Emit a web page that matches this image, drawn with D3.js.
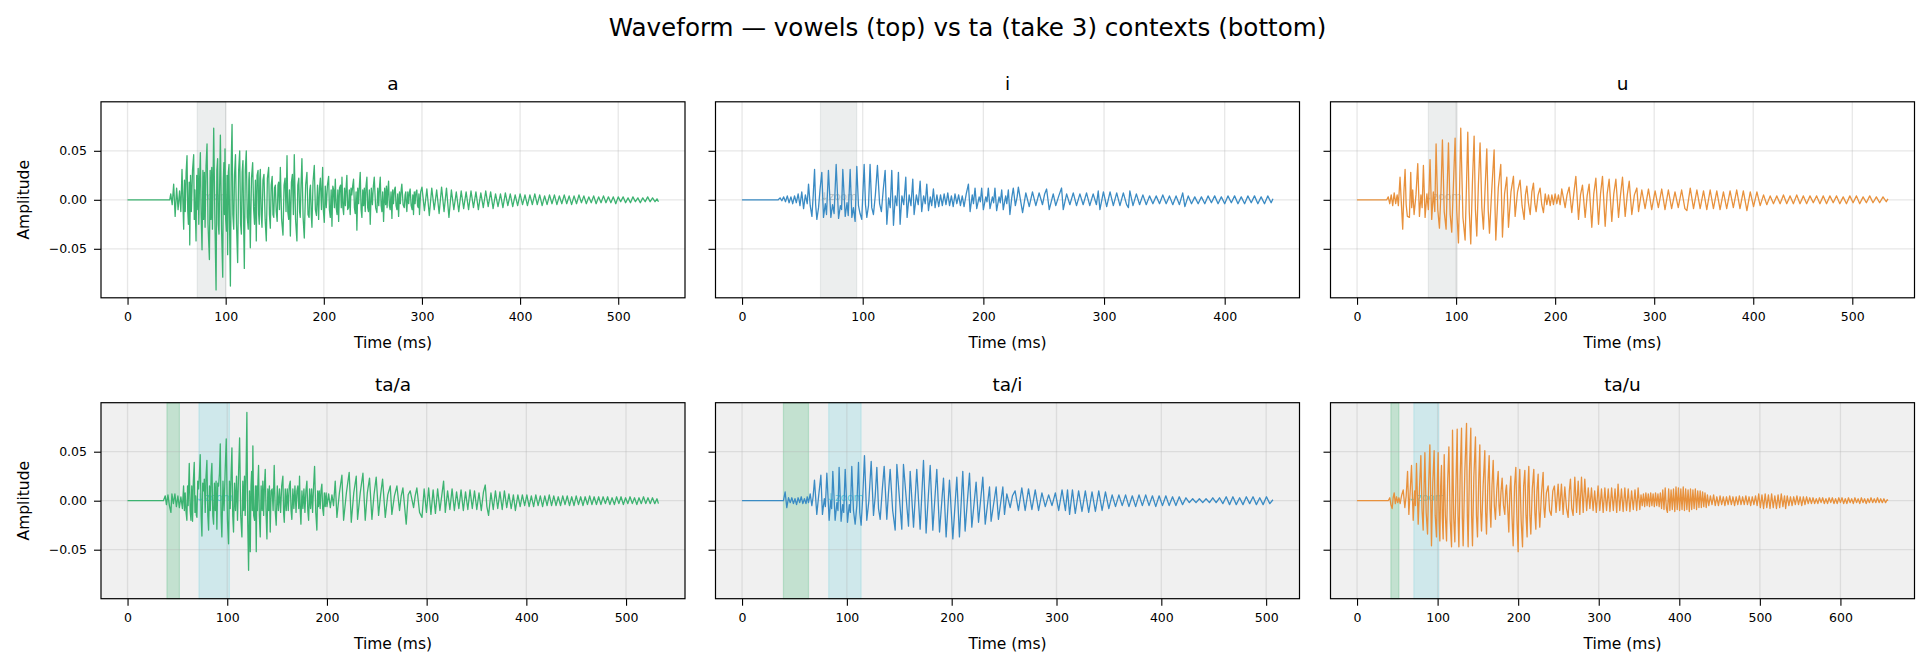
<!DOCTYPE html>
<html>
<head>
<meta charset="utf-8">
<script src="https://cdn.jsdelivr.net/npm/d3@7"></script>
<style>
  body { margin: 0; background: #fff; }
  svg text { font-family: "DejaVu Sans", sans-serif; }
</style>
</head>
<body>
<script>
// waveforms: [time ms, amplitude x 1000]
var waveA = [[0,0],[43,0],[44,6],[45.5,-5],[47,16],[48.5,-17],[50,12],[51.5,-10],[53,9],[54.3,-12],[55.5,31],[57.2,-30],[58,20],[58.8,-12],[59.7,28],[60.6,45],[61.3,-10],[62,-25],[62.8,18],[63.4,-46],[64.2,25],[65,-12],[66.2,30],[67.4,46],[68,-20],[68.6,10],[69.8,-42],[70.5,25],[71,-10],[72,32],[72.6,-25],[73.4,20],[74.2,48],[75,-15],[75.9,-51],[76.8,30],[77.5,-20],[78.3,28],[79,-28],[80,35],[81,57],[82,-25],[83.4,-61],[84.2,30],[85,-20],[85.8,33],[86.5,-30],[87.8,73],[89,-20],[90.2,-92],[91,30],[91.8,42],[92.5,-25],[93.2,-35],[94,25],[94.6,66],[95.8,-30],[97,-79],[97.6,20],[98.2,38],[98.8,-15],[99.3,52],[100,-20],[100.8,-32],[101.4,25],[102,-56],[102.7,28],[103.4,36],[104,-30],[104.8,-88],[105.7,40],[106.5,77],[107.3,-15],[108.2,-30],[109,25],[110,46],[111,-25],[112.2,-64],[113.2,30],[114.3,50],[115.2,-25],[116,-35],[116.8,28],[117.6,40],[118.3,-25],[119,-70],[120,30],[121,50],[122,-18],[123,-30],[123.6,20],[124,28],[124.6,-20],[125.1,-49],[126.3,22],[127.5,38],[128.5,-10],[129.4,-25],[130.3,20],[131.2,-42],[132,25],[133,30],[133.6,-15],[134.2,-25],[134.8,22],[135.3,31],[136.2,-15],[137,-28],[138,20],[139,26],[140.2,-20],[141.4,-42],[142.5,22],[143.8,33],[144.6,-15],[145.5,-29],[146.4,15],[147.4,24],[148.2,-15],[149,-18],[149.8,12],[150.6,15],[151.5,-12],[152.5,-22],[153.3,15],[154,18],[154.8,-10],[155.7,33],[157,-20],[158.4,-36],[159.5,15],[160.5,22],[161.5,-12],[162.5,45],[163.3,-12],[164.2,-20],[165,10],[165.9,-37],[167,18],[168,26],[169,-15],[169.9,46],[171.2,-20],[172.6,-42],[173.5,15],[174.5,22],[175.3,-12],[176,-18],[176.8,15],[177.7,42],[178.9,-18],[180.1,-39],[181.5,15],[182.8,28],[183.9,-15],[185,-18],[185.7,10],[186.4,15],[187.2,-15],[187.9,-28],[189,18],[190.3,35],[191.4,-10],[192.5,-16],[193.6,15],[194.7,-20],[195.6,12],[196.5,22],[197.6,-10],[198.8,33],[199.6,-12],[200.5,-23],[201.5,14],[202.5,-8],[203.7,15],[204.9,24],[205.7,-10],[206.6,-18],[207.5,10],[208.3,-27],[209.2,14],[210,10],[210.8,-8],[211.7,21],[212.6,-8],[213.5,-15],[214.3,10],[215.1,-22],[216,12],[217,15],[217.8,-8],[218.5,23],[219.4,-8],[220.2,-15],[221.1,12],[222,-6],[222.8,14],[223.5,25],[224.3,-10],[225.2,-8],[226,10],[226.9,-15],[227.7,12],[228.5,5],[229.4,14],[230.3,21],[231.2,-8],[232,-14],[232.9,8],[233.7,-31],[234.6,12],[235.5,-4],[236.3,15],[237.1,28],[238,-10],[238.8,-18],[239.7,10],[240.5,-6],[241.3,12],[242.2,-12],[243,14],[243.9,23],[244.7,-8],[245.5,-12],[246.4,10],[247.3,-25],[248.4,12],[249.5,-5],[250.5,14],[251.4,23],[252.8,-8],[254.1,-13],[255,12],[256,-6],[256.8,14],[257.5,23],[258.4,-6],[259.2,-12],[260,8],[260.9,-22],[262,12],[263,-5],[263.8,14],[264.5,-8],[265.3,10],[266,19],[266.8,-6],[267.6,-10],[268.5,8],[269.4,-19],[270.2,10],[271,-4],[271.9,10],[272.8,13],[273.6,-6],[274.5,-10],[275.3,6],[276.2,-17],[277.1,8],[278,-4],[278.8,10],[279.5,16],[280.8,-5],[282,-8],[282.8,5],[283.5,8],[284.1,-6],[284.6,-12],[285.6,8],[286.5,-4],[287.3,8],[288,11],[289,-6],[290,-10],[290.7,5],[291.4,-15],[292.2,8],[293,-4],[293.9,8],[294.8,10],[295.5,-6],[296.2,-8],[296.9,6],[297.5,-15],[298.7,8],
  [300,13],[302.5,-11],[305,11],[307.5,-16],[310,12],[312.5,-10],[315,10],[317.5,-14],[320,13],[322.5,-12],[325,12],[327.5,-18],[330,10],[332.5,-10],[335,8],[337.5,-12],[340,9],[342.5,-9],[345,8],[347.5,-10],[350,9],[352.5,-8],[355,8],[357.5,-10],[360,7],[362.5,-8],[365,9],[367.5,-7],[370,8],[372.5,-9],[375,6],[377.5,-7],[380,6],[382.5,-8],[385,7],[387.5,-6],[390,6],[392.5,-7],[395,5],[397.5,-6],[400,6],[402.5,-5],[405,5],[407.5,-6],[410,5],[412.5,-5],[415,6],[417.5,-5],[420,5],[422.5,-6],[425,4],[427.5,-5],[430,5],[432.5,-4],[435,5],[437.5,-5],[440,4],[442.5,-4],[445,5],[447.5,-4],[450,4],[452.5,-5],[455,4],[457.5,-4],[460,5],[462.5,-3],[465,4],[467.5,-4],[470,3],[472.5,-3],[475,4],[477.5,-4],[480,3],[482.5,-3],[485,4],[487.5,-3],[490,3],[492.5,-3],[495,3],[497.5,-4],[500,3],[502.5,-2],[505,3],[507.5,-3],[510,2],[512.5,-3],[515,3],[517.5,-2],[520,2],[522.5,-3],[525,2],[527.5,-2],[530,3],[532.5,-2],[535,2],[537.5,-2],[539.5,1],[541,-2]];

var waveI = [[0,0],[30,0],[31.5,2],[33,-1],[34.5,3],[36,-2],[37.5,4],[39,-3],[40.5,3],[42,-4],[43.5,4],[45,-3],[46.5,6],[48,-6],[49.5,8],[51,-9],[52.5,5],[54,-4],[55.1,16],[56.5,-6],[57.9,-17],[59,5],[60.1,31],[61,-5],[62,-20],[63.4,-8],[64.6,10],[66.1,28],[67.5,-18],[69,-4],[70,-15],[71.6,30],[73.6,-18],[75,-5],[76.3,-14],[78,36],[80,-19],[81.5,-6],[82.5,-10],[83.5,31],[85.5,-17],[87,-3],[88,-16],[89.6,31],[91,-18],[92.3,-8],[93.7,-22],[95.1,34],[96.5,-6],[97.8,-14],[99.2,-20],[101.2,36],[102.3,-5],[103.4,-18],[104.8,-6],[106.1,36],[107.5,-8],[108.9,-15],[110.5,5],[112.2,35],[114,-4],[115.5,-12],[117,10],[118.6,30],[120,-25],[121.5,2],[122.8,-8],[124.1,30],[125.5,-26],[127,4],[128.3,-6],[129.6,28],[131,-25],[132.5,4],[134,-5],[135.7,23],[136.8,-18],[138.5,5],[140,-6],[141.5,21],[142.6,-15],[144.5,5],[146,-5],[147.6,19],[148.9,-12],[150.5,4],[151.8,-4],[153.1,16],[154.5,-11],[156,3],[157.2,-6],[158.6,11],[160,-8],[161.5,5],[163,-7],[164.5,5],[166,-6],[167.5,6],[169,-5],[170.5,7],[172,-6],[173.5,4],[175,-7],[176.5,6],[178,-4],[179.5,5],[181,-6],[182.5,4],[184,-7],[185.8,6],[187.6,16],[189,-12],[190.8,5],[191.8,-4],[193.1,12],[194.5,-9],[196.5,3],[197.5,-2],[198.6,12],[200,-10],[202,3],[203,-2],[204.1,12],[205.5,-9],[207.5,3],[208.5,-3],[209.6,12],[211,-11],[213,3],[214,-3],[215.2,10],[216.5,-10],[218.5,4],[219.4,-4],[220.7,10],[222,-15],[223.5,2],[224.8,12],[226.5,-6],[228,3],[229,13],[232.5,-13],
  [235.2,7],[238,-7],[240.7,8],[243.5,-6],[246.2,7],[249,-5],[250.8,6],[252.4,11],[254.6,-10],[257.9,6],[260,-6],[262.5,4],[264.8,12],[266.2,-10],[269,6],[271.7,-5],[274.5,7],[277.2,-6],[280,6],[282.7,-5],[285.5,7],[288.2,-6],[291,6],[293.7,-5],[295.2,9],[296.6,-10],[299.5,8],[302.2,-7],[305,8],[307.7,-6],[310.5,7],[313.2,-6],[316,7],[318.7,-5],[320.2,-8],[321.4,9],[324,-6],[326.8,6],[329.5,-5],[332.2,5],[335,-5],[337.7,4],[340.5,-4],[343.2,4],[346,-4],[348.7,5],[351.5,-4],[354.2,4],[357,-5],[359.7,4],[362.5,-5],[365.2,7],[367,-7],[369.8,4],[372.5,-4],[375.2,3],[378,-4],[380.7,3],[383.5,-4],[386.2,4],[389,-3],[391.7,4],[394.5,-4],[397.2,3],[400,-4],[402.7,4],[405.5,-3],[408.2,4],[411,-4],[413.7,3],[416.5,-4],[419.2,4],[422,-3],[424.7,4],[427.5,-4],[430.2,3],[433,-4],[435.7,4],[438.5,-3],[440,1]];

var waveU = [[0,0],[30,0],[31.5,3],[33,-4],[34.5,5],[36,-6],[37.5,7],[39,-4],[40.5,5],[41.7,-6],[43.4,23],[46.1,-30],[47.3,8],[48.5,31],[49.6,-5],[50.8,-17],[52.9,-18],[54.2,28],[55.2,-8],[56.2,10],[57.6,-15],[59.5,5],[61.3,37],[63,-17],[64.5,5],[65.7,-8],[67,35],[68.7,-18],[70.5,6],[72,-10],[73.7,41],[75.4,-20],[77,8],[78.5,-12],[79.8,57],[81.5,-10],[83.2,-29],[84.8,10],[86.2,61],[88,-12],[89.9,-30],[91,12],[92.3,58],[94,-15],[95.6,-33],[97.3,15],[99,63],[100.7,-12],[102.4,-44],[103.5,10],[104.7,73],[106.9,-18],[109.1,-41],[110.5,15],[111.8,69],[113.3,-12],[114.8,-45],[116.5,18],[118.2,65],[119.5,-10],[120.9,-37],[122.5,15],[124.2,58],[126,-8],[127.6,-30],[129.3,12],[131,52],[132.4,-10],[133.7,-34],[136,10],[138.4,51],[139.3,-8],[140.1,-41],[142.6,12],[145.1,36],[146.8,-38],[148.9,6],[151.2,23],[152.9,-28],[155.4,8],[157.9,24],[159.6,-17],[162,8],[164.6,20],[166.6,-6],[168.7,-20],[170,5],[171.4,14],[173,-3],[174.8,-15],[176.5,8],[178.1,17],[179.5,-4],[180.8,-12],[182.8,5],[184.8,12],[186.5,-5],[188.2,-13],[190,6],[191.6,-5],[193.3,5],[195,-6],[196.7,5],[198.3,-5],[200,6],[201.7,-4],[203.3,5],[205,-5],[206.7,11],[210.1,-8],[212,5],[214.1,13],[216.8,-13],[218.8,6],[220.9,24],[223.6,-20],[225.6,5],[227.6,15],[230.3,-18],[232.3,4],[234.3,16],[237,-28],[239,6],[241.1,22],[243.8,-25],[245.8,6],[247.8,24],[250.5,-27],[252.5,6],[254.5,21],[257.2,-22],[259.2,6],[261.3,21],[264,-18],[266,5],[268,23],[270.7,-17],[272.8,5],[274.8,19],[277.4,-15],[280,5],[282.5,12],[284.2,-12],
  [287.5,10],[290.8,-9],[294.2,11],[297.5,-10],[300.9,9],[304.2,-8],[307.6,11],[310.9,-10],[314.3,10],[317.6,-9],[321,8],[324.3,-8],[327.7,10],[331,-9],[333,-11],[336.4,12],[339.7,-9],[343.1,10],[346.4,-9],[349.8,9],[353.1,-10],[356.5,10],[359.8,-9],[363.2,9],[366.5,-10],[369.9,8],[373.2,-9],[376.6,9],[379.9,-8],[383.3,10],[386.6,-9],[390,9],[393.6,-11],[397,8],[400.3,-7],[403.7,8],[407,-6],[410.4,5],[413.7,-5],[417.1,4],[420.4,-4],[423.8,4],[427.1,-4],[430.5,5],[433.8,-4],[437.2,4],[440.5,-4],[443.9,5],[447.2,-4],[450.6,4],[453.9,-4],[457.3,4],[460.6,-3],[464,4],[467.3,-4],[470.7,4],[474,-4],[477.4,4],[480.7,-3],[484.1,4],[487.4,-4],[490.8,3],[494.1,-4],[497.5,4],[500.8,-3],[504.2,4],[507.5,-4],[510.9,3],[514.2,-3],[517.6,4],[520.9,-3],[524.3,3],[527.6,-3],[531,3],[534.3,-2],[536,1]];

var waveTaA = [[0,0],[36,0],[37.8,5],[39,-4],[40.5,6],[42,-5],[43.5,-12],[44.5,7],[46,-3],[47.5,7],[49,-6],[50.5,5],[52,-7],[53.5,4],[55,-8],[56.2,15],[57,-10],[57.8,8],[58.7,-12],[59.5,-20],[60.2,15],[60.8,-5],[61.9,38],[62.8,-10],[63.6,-20],[64.4,15],[65.2,-21],[66,20],[66.9,39],[67.6,-12],[68.3,5],[69,-15],[69.6,-17],[70.4,20],[71.2,12],[72,25],[72.9,47],[73.8,-15],[74.6,-36],[75.4,18],[76.2,10],[77,22],[77.9,-12],[78.7,25],[79.6,41],[80.5,-15],[81.3,-30],[82.2,15],[83,-10],[83.8,25],[84.6,38],[85.5,-15],[86.3,-24],[87.2,18],[88,-10],[88.8,20],[89.6,-29],[90.5,18],[91.3,15],[92.2,28],[93,58],[93.8,-15],[94.6,-37],[95.7,20],[96.8,-10],[97.9,30],[99,63],[100.2,-20],[101.3,-44],[102.2,20],[103,-8],[103.9,30],[104.7,54],[105.5,-15],[106.3,-32],[107.3,18],[108.3,-10],[109.3,25],[110.3,-20],[111.4,30],[112.4,64],[113.5,-15],[114.7,-37],[115.6,20],[116.5,-10],[117.3,25],[118,-15],[118.9,30],[119.7,90],[120.5,-20],[121.4,-71],[122.3,10],[123.1,-52],[123.8,15],[124.5,30],[125.1,-10],[125.7,56],[126.5,-15],[127.4,-20],[128.3,15],[129.1,-52],[129.7,15],[130.3,-10],[130.8,20],[131.4,36],[132.2,-15],[133.1,-37],[134,15],[135,-10],[135.7,20],[136.5,-15],[137.3,15],[138.1,32],[139,-15],[139.8,-39],[140.7,12],[141.5,-10],[142.3,15],[143.1,-32],[144,10],[145,12],[146,-10],[147.1,36],[148.1,-10],[149.1,-25],[150.2,15],[151.3,-10],[152.4,12],[153.5,-12],[154.6,15],[155.8,25],[156.5,-12],[157.2,-22],[158.2,12],[159.2,-10],[160.2,12],[161.2,-10],[162.2,15],[163.2,20],[164,-10],[164.8,-19],[165.8,12],[166.8,-8],[167.9,15],[169,-12],[169.9,10],[170.8,15],[171.7,-8],[172.5,25],[173.2,-10],[173.9,-24],[174.9,10],[175.9,-8],[176.9,12],[177.9,-12],[178.9,10],[179.9,20],[180.8,-10],[181.6,-20],[182.6,12],[183.6,-8],[184.6,12],[185.6,-12],[186.6,15],[187.6,35],[188.8,-12],[189.9,-30],[190.7,10],[191.5,-6],[192.3,10],[193.2,-8],[194,10],[194.9,17],[195.7,-8],[196.6,-15],[197.4,8],[198.3,-6],[199.2,8],[200,-6],[201.7,7],[203.4,-7],[205,6],[206.6,-5],[208.3,20],[210,-17],[212.5,8],[215,26],[216.7,-20],[219.5,8],[222.3,29],[224.4,-22],[226.9,8],[229.4,25],[230.7,-19],[233.4,8],[236.1,28],[238.4,-20],[240.5,8],[242.7,23],[245.1,-19],[247.2,6],[249.4,24],[251.8,-15],[253.8,6],[255.8,22],[258.5,-17],[261,6],[263.5,15],[265.1,-14],[267.7,5],[270.2,15],[272.8,-10],[274.5,5],[276.2,13],[279.5,-24],[281.5,6],[283.5,10],[286.9,-7],[288.5,5],[290.2,13],[292.9,-12],
  [295.3,-17],[297.5,12],[299.8,-12],[302,13],[304.3,-14],[306.5,11],[308.8,-13],[311,12],[313.3,-10],[315.5,8],[317,20],[318.7,-12],[321,10],[323.3,-9],[325.5,12],[327.8,-10],[330,9],[332.3,-8],[334.5,11],[336.8,-10],[339,9],[341.3,-9],[343.5,11],[345.8,-8],[348,10],[350.3,-9],[352.5,8],[354.8,-10],[357,9],[358.8,16],[360.4,-6],[362.1,-15],[364.5,8],[366.8,-9],[369,10],[371.3,-8],[373.5,9],[375.8,-9],[378,10],[380.3,-7],[382.5,7],[384.8,-8],[387,6],[389,-10],[391.5,6],[393.8,-6],[396,6],[398.3,-5],[400.5,6],[402.8,-6],[405,5],[407.3,-6],[409.5,6],[411.8,-5],[414,5],[416.3,-6],[418.5,5],[420.8,-5],[423,6],[425.3,-5],[427.5,5],[429.8,-5],[432,4],[434.3,-5],[436.5,5],[438.8,-4],[441,5],[443.3,-5],[445.5,4],[447.8,-5],[450,5],[452.3,-4],[454.5,4],[456.8,-5],[459,4],[461.3,-4],[463.5,5],[465.8,-4],[468,4],[470.3,-4],[472.5,4],[474.8,-4],[477,4],[479.3,-3],[481.5,4],[483.8,-4],[486,3],[488.3,-4],[490.5,4],[492.8,-3],[495,4],[497.3,-4],[499.5,3],[501.8,-3],[504,4],[506.3,-3],[508.5,3],[510.8,-4],[513,3],[515.3,-3],[517.5,4],[519.8,-3],[522,3],[524.3,-3],[526.5,3],[528.8,-3],[531,2],[532.5,-3]];

var waveTaI = [[0,0],[39.5,0],[41.1,9],[42.7,-7],[44.3,3],[46,-2],[47.5,3],[49,-3],[50.5,2],[52,-4],[53.5,3],[55,-2],[56.5,4],[58,-3],[59.5,2],[61,-3],[62.2,4],[63.4,-2],[65,7],[66.6,-5],[67.8,4],[69.1,21],[71.3,-14],[73,4],[75.2,26],[76.7,-14],[78.5,2],[79.5,-6],[80.9,28],[83.1,-20],[84.5,0],[85.5,-8],[86.6,30],[88.8,-20],[90.5,-2],[91.5,-10],[92.6,34],[94.5,-21],[96,-4],[97,-12],[98.4,32],[100.6,-22],[102.3,-4],[103.3,-12],[104.7,35],[106.3,-10],[107.9,-24],[109.5,-5],[111.1,39],[112.3,-12],[113.6,-25],[115.2,5],[116.8,46],[119,-20],[121,0],[123.2,40],[125.4,-15],[127,4],[128.6,34],[130.2,-8],[131.8,-19],[133.7,10],[135.6,35],[138.1,-19],[139.7,8],[141.3,32],[143.7,-10],[146.1,-30],[147.7,37],[152.4,-29],[154,37],[158.8,-26],[160.4,30],[163.6,-27],[166.7,32],[169.9,-29],[173.1,41],[175.6,-33],[179.5,36],[182,-30],[185.8,32],[188.4,-32],[192.2,23],[194.7,-37],[197.9,21],[201.1,-39],[204.9,24],[207.4,-37],[210.6,30],[212.8,-31],[217,28],[219.2,-27],[223.3,19],[225.6,-22],[229.7,24],[232,-24],[236.1,14],[237.6,-21],[242.4,14],[244.6,-19],[248.8,14],[250.4,-14],[252.6,7],[255.8,-7],[258,5],[260.5,10],[263.7,-10],
  [266.9,13],[270.1,-10],[273.3,12],[276.5,-9],[279.7,11],[282.9,-10],[286.1,8],[289.3,-6],[292.5,6],[295.7,-5],[298.9,8],[302.1,-10],[305.3,11],[308.5,-10],[310.5,11],[312.5,-14],[315.2,11],[317.9,-13],[321.1,10],[324.3,-11],[327.5,10],[330.7,-12],[333.9,9],[337.1,-11],[340.3,10],[343.5,-10],[346.7,9],[349.9,-8],[353.1,6],[356.3,-6],[359.5,6],[362.7,-5],[365.9,6],[369.1,-6],[372.3,5],[375.5,-6],[378.7,6],[381.9,-5],[385.1,6],[388.3,-5],[391.5,5],[394.7,-6],[397.9,5],[401.1,-5],[404.3,5],[407.5,-5],[410.7,4],[413.9,-5],[417.1,4],[420.3,-4],[423.5,3],[426.7,-2],[429.9,2],[433.1,-2],[436.3,2],[439.5,-2],[442.7,2],[445.9,-2],[449.1,3],[452.3,-2],[455.5,3],[458.7,-3],[461.9,4],[465.1,-4],[468.3,4],[471.5,-4],[474.7,3],[477.9,-4],[481.1,4],[484.3,-3],[487.5,4],[490.7,-4],[493.9,3],[497.1,-4],[500.3,4],[503.5,-3],[506.5,1]];

var waveTaU = [[0,0],[38.7,0],[40.7,3],[42,-4],[43.6,-8],[44.8,3],[46.1,8],[47.5,-3],[49,4],[50.5,-2],[52,3],[53.5,-3],[55.2,5],[57.3,11],[59.3,-7],[61,5],[62.7,30],[64.3,-14],[66,10],[67.6,36],[69.7,-20],[71.5,10],[72.5,-5],[73.8,38],[75.9,-24],[77.5,12],[79.2,46],[80.7,-10],[82.1,-30],[83.2,15],[84.2,49],[85.8,-12],[87.5,-34],[89,20],[90.4,57],[92.4,-46],[94,18],[95.7,51],[97,-15],[98.6,-37],[99.7,20],[100.7,49],[101.8,-20],[102.8,-41],[103.8,15],[104.8,36],[105.8,-18],[106.9,-39],[107.5,10],[108.2,47],[109.6,-15],[111.1,-41],[112.5,20],[114,55],[115.6,-20],[117.3,-47],[118.5,72],[120,-18],[121.4,-42],[123,25],[124.3,73],[125.3,-15],[126.4,-47],[128,25],[129.7,74],[130.7,-18],[131.7,-46],[133.8,30],[135.9,79],[136.9,-15],[137.9,-47],[139.5,30],[141.2,74],[142.2,-15],[143.3,-46],[145,25],[147,65],[148.2,-15],[149.5,-37],[151,20],[152.4,57],[153.4,-10],[154.5,-31],[156.5,15],[158.6,51],[159.6,-12],[160.7,-34],[162.3,15],[164,46],[165,-8],[166.1,-27],[167.5,15],[169,41],[170.4,-5],[171.8,-19],[173.5,12],[175.2,30],[176.2,-5],[177.2,-15],[178.6,8],[180.1,23],[181.8,-5],[183.4,-14],[184.5,10],[185.5,16],[187,-8],[188.4,-32],[189.7,10],[190.9,25],[192.3,-15],[193.8,-46],[195.5,15],[197.1,34],[198.5,-20],[200,-52],[201,15],[202,32],[203.7,-20],[205.4,-47],[206.8,15],[208.3,31],[209.7,-15],[211.1,-37],[212.1,15],[213.2,35],[214.5,-15],[215.7,-34],[217.5,12],[219.4,32],[220.7,-12],[221.9,-29],[223.3,10],[224.8,27],[225.8,-10],[226.8,-27],[229,8],[231,29],[232,-8],[233,-17],[235,8],[237.2,15],[239,-10],[241,-15],[243,10],[245,15],[247,-12],[249.6,17],[251.5,-10],[253.7,17],[255.8,-14],[257.9,14],[260,-8],[262,-17],[263.5,10],[264.9,22],[266.5,-8],[268.2,-15],[270.3,24],[272.5,-12],[274.5,20],[276.5,-14],[278.6,24],[280.7,-12],[282.7,22],[285,-10],[287,13],[289,-8],[291,13],[293,-10],[295,10],[297,-12],[299.2,15],[301.3,-10],[303.4,12],[305.5,-12],[307.6,13],[309.7,-10],[311.8,12],[313.9,-11],[316,13],[318.1,-10],[320.2,12],[322.3,-12],[324,17],[326.1,-10],[328.2,12],[330.3,-11],[332.4,13],[334.5,-10],[336.6,12],[338.7,-11],[340.8,10],[342.9,-9],[345,11],[347.1,-10],[348.9,13],[351,-9],
  [352.5,6],[354,-5],[355.5,7],[357,-6],[358.5,8],[360,-5],[361.5,7],[363,-6],[364.5,8],[366,-5],[367.5,7],[369,-6],[370.5,8],[372,-5],[373.5,7],[375,-6],[376.5,8],[378,-8],[379.5,11],[381,-9],[382.5,13],[384,-8],[385.3,-12],[386.8,12],[388.3,-10],[389.8,11],[391.3,-9],[392.8,12],[394.4,-11],[395.9,14],[397.4,-9],[398.9,13],[400.4,-10],[401.9,12],[403.4,-9],[404.9,14],[406.4,-10],[407.9,12],[409.4,-9],[410.9,11],[412.4,-11],[413.9,12],[415.4,-9],[416.9,11],[418.4,-8],[419.9,12],[421.4,-9],[422.9,10],[424.4,-7],[425.9,10],[427.4,-7],[428.9,9],[430.4,-6],[431.9,8],[433.4,-7],[434.9,6],[436.6,-5],[438.6,5],[440.6,-4],[442.6,6],[444.6,-5],[446.6,4],[448.6,-5],[450.6,5],[452.6,-4],[454.6,4],[456.6,-5],[458.6,4],[460.6,-4],[462.6,5],[464.6,-4],[466.6,4],[468.6,-5],[470.6,4],[472.6,-4],[474.6,5],[476.6,-4],[478.6,4],[480.6,-4],[482.6,5],[484.6,-4],[486.6,4],[488.6,-5],[490.6,4],[492.6,-4],[494.6,5],[496.6,-5],[498.6,7],[500.6,-7],[502.6,6],[504.6,-8],[506.6,7],[508.6,-7],[510.6,6],[512.6,-8],[514.6,7],[516.6,-7],[518.6,5],[520.6,-8],[522.6,6],[524.6,-7],[526.6,7],[528.6,-6],[530.6,5],[532,-8],[534,5],[536,-5],[538,4],[540,-5],[542,4],[544,-4],[546,5],[548,-4],[550,4],[552,-5],[554,4],[556,-4],[558,4],[560,-3],[562,3],[564,-3],[566,3],[568,-3],[570,2],[572,-3],[574,3],[576,-2],[578,3],[580,-3],[582,2],[584,-3],[586,3],[588,-2],[590,3],[592,-3],[594,2],[596,-3],[598,3],[600,-2],[602,3],[604,-3],[606,2],[608,-3],[610,3],[612,-2],[614,2],[616,-3],[618,3],[620,-2],[622,2],[624,-3],[626,3],[628,-2],[630,2],[632,-3],[634,2],[636,-2],[638,3],[640,-2],[642,2],[644,-2],[646,3],[648,-2],[650,2],[652,-2],[654,2],[656,-2],[658,1],[659,0]];

var suptitle = "Waveform — vowels (top) vs ta (take 3) contexts (bottom)";
var panelTitles = ["a", "i", "u", "ta/a", "ta/i", "ta/u"];
var waves = [waveA, waveI, waveU, waveTaA, waveTaI, waveTaU];
var yTicks = [-0.05, 0, 0.05];
var yTickLabels = ["\u22120.05", "0.00", "0.05"];
var vowelSpans = [[71, 100], [65, 95], [72, 101]];     // top row, grey
var burstSpans = [[39.5, 52], [39.5, 63.4], [42, 52]]; // bottom row, green
var zoomSpans = [[71.6, 102.2], [82.7, 113.6], [70.5, 101.5]]; // bottom row, cyan
var lineColors = ["#3cb371", "#3a8bc4", "#e8913c"];

var W = 1929, H = 671;
var colX = [101, 715.5, 1330.5], rowY = [101.8, 402.7];
var pw = 584, ph = 196;

var svg = d3.select("body").append("svg")
    .attr("width", W)
    .attr("height", H);

svg.append("text")
    .attr("x", W / 2 + 3)
    .attr("y", 36)
    .attr("text-anchor", "middle")
    .style("font-size", "24.6px")
    .text(suptitle);

waves.forEach(function (wave, k) {
    var row = Math.floor(k / 3), col = k % 3;
    var g = svg.append("g")
        .attr("transform", "translate(" + colX[col] + "," + rowY[row] + ")");

    var tmax = d3.max(wave, d => d[0]);
    var x = d3.scaleLinear().domain([-0.05 * tmax, 1.05 * tmax]).range([0, pw]);
    var y = d3.scaleLinear().domain([-0.1, 0.1]).range([ph, 0]);

    g.append("rect")
        .attr("width", pw)
        .attr("height", ph)
        .attr("fill", row ? "#f0f0f0" : "#fff");

    // shaded spans
    var spans = row ? [[burstSpans[col], "#3cb371", 0.25], [zoomSpans[col], "#17becf", 0.15]]
                    : [[vowelSpans[col], "#7f8c8d", 0.15]];
    spans.forEach(function (s) {
        g.append("rect")
            .attr("x", x(s[0][0]))
            .attr("y", 0)
            .attr("width", x(s[0][1]) - x(s[0][0]))
            .attr("height", ph)
            .attr("fill", s[1])
            .attr("fill-opacity", s[2])
            .attr("stroke", s[1])
            .attr("stroke-opacity", s[2])
            .attr("stroke-width", 1.2);
    });

    // grid
    g.append("g").selectAll("line")
        .data(x.ticks(6))
        .join("line")
        .attr("x1", d => x(d)).attr("x2", d => x(d))
        .attr("y1", 0).attr("y2", ph)
        .attr("stroke", "#b0b0b0").attr("stroke-opacity", 0.3).attr("stroke-width", 1.3);
    g.append("g").selectAll("line")
        .data(yTicks)
        .join("line")
        .attr("y1", d => y(d)).attr("y2", d => y(d))
        .attr("x1", 0).attr("x2", pw)
        .attr("stroke", "#b0b0b0").attr("stroke-opacity", 0.3).attr("stroke-width", 1.3);

    // "zoom" marker over the zoom window
    var zs = row ? zoomSpans[col] : vowelSpans[col];
    g.append("text")
        .attr("x", x((zs[0] + zs[1]) / 2))
        .attr("y", y(0))
        .attr("text-anchor", "middle")
        .attr("fill", row ? "#17becf" : "#7f8c8d")
        .attr("fill-opacity", row ? 0.7 : 0.5)
        .style("font-size", "10.5px")
        .text("\u2193zoom");

    var line = d3.line()
        .x(d => x(d[0]))
        .y(d => y(d[1] / 1000));

    g.append("path")
        .datum(wave)
        .attr("d", line)
        .attr("fill", "none")
        .attr("stroke", lineColors[col])
        .attr("stroke-width", 1.3)
        .attr("stroke-linejoin", "round");

    // frame
    g.append("rect")
        .attr("width", pw)
        .attr("height", ph)
        .attr("fill", "none")
        .attr("stroke", "#000")
        .attr("stroke-width", 1.2);

    var xAxis = g.append("g")
        .attr("transform", "translate(0," + ph + ")")
        .call(d3.axisBottom(x).ticks(6).tickSize(7).tickPadding(7));
    var yAxis = g.append("g")
        .call(d3.axisLeft(y).tickValues(yTicks).tickSize(7).tickPadding(7)
            .tickFormat((d, i) => col === 0 ? yTickLabels[i] : ""));
    [xAxis, yAxis].forEach(function (a) {
        a.select(".domain").remove();
        a.selectAll(".tick line").attr("stroke", "#000").attr("stroke-width", 1.1);
        a.selectAll("text")
            .style("font-family", "DejaVu Sans")
            .style("font-size", "12.5px")
            .attr("fill", "#000");
    });

    g.append("text")
        .attr("x", pw / 2)
        .attr("y", ph + 50)
        .attr("text-anchor", "middle")
        .style("font-size", "15.5px")
        .text("Time (ms)");

    if (col === 0) {
        g.append("text")
            .attr("transform", "translate(" + (24 - colX[0]) + "," + ph / 2 + ") rotate(-90)")
            .attr("text-anchor", "middle")
            .attr("dy", "0.35em")
            .style("font-size", "15.5px")
            .text("Amplitude");
    }

    g.append("text")
        .attr("x", pw / 2)
        .attr("y", -12)
        .attr("text-anchor", "middle")
        .style("font-size", "18.5px")
        .text(panelTitles[k]);
});
</script>
</body>
</html>
